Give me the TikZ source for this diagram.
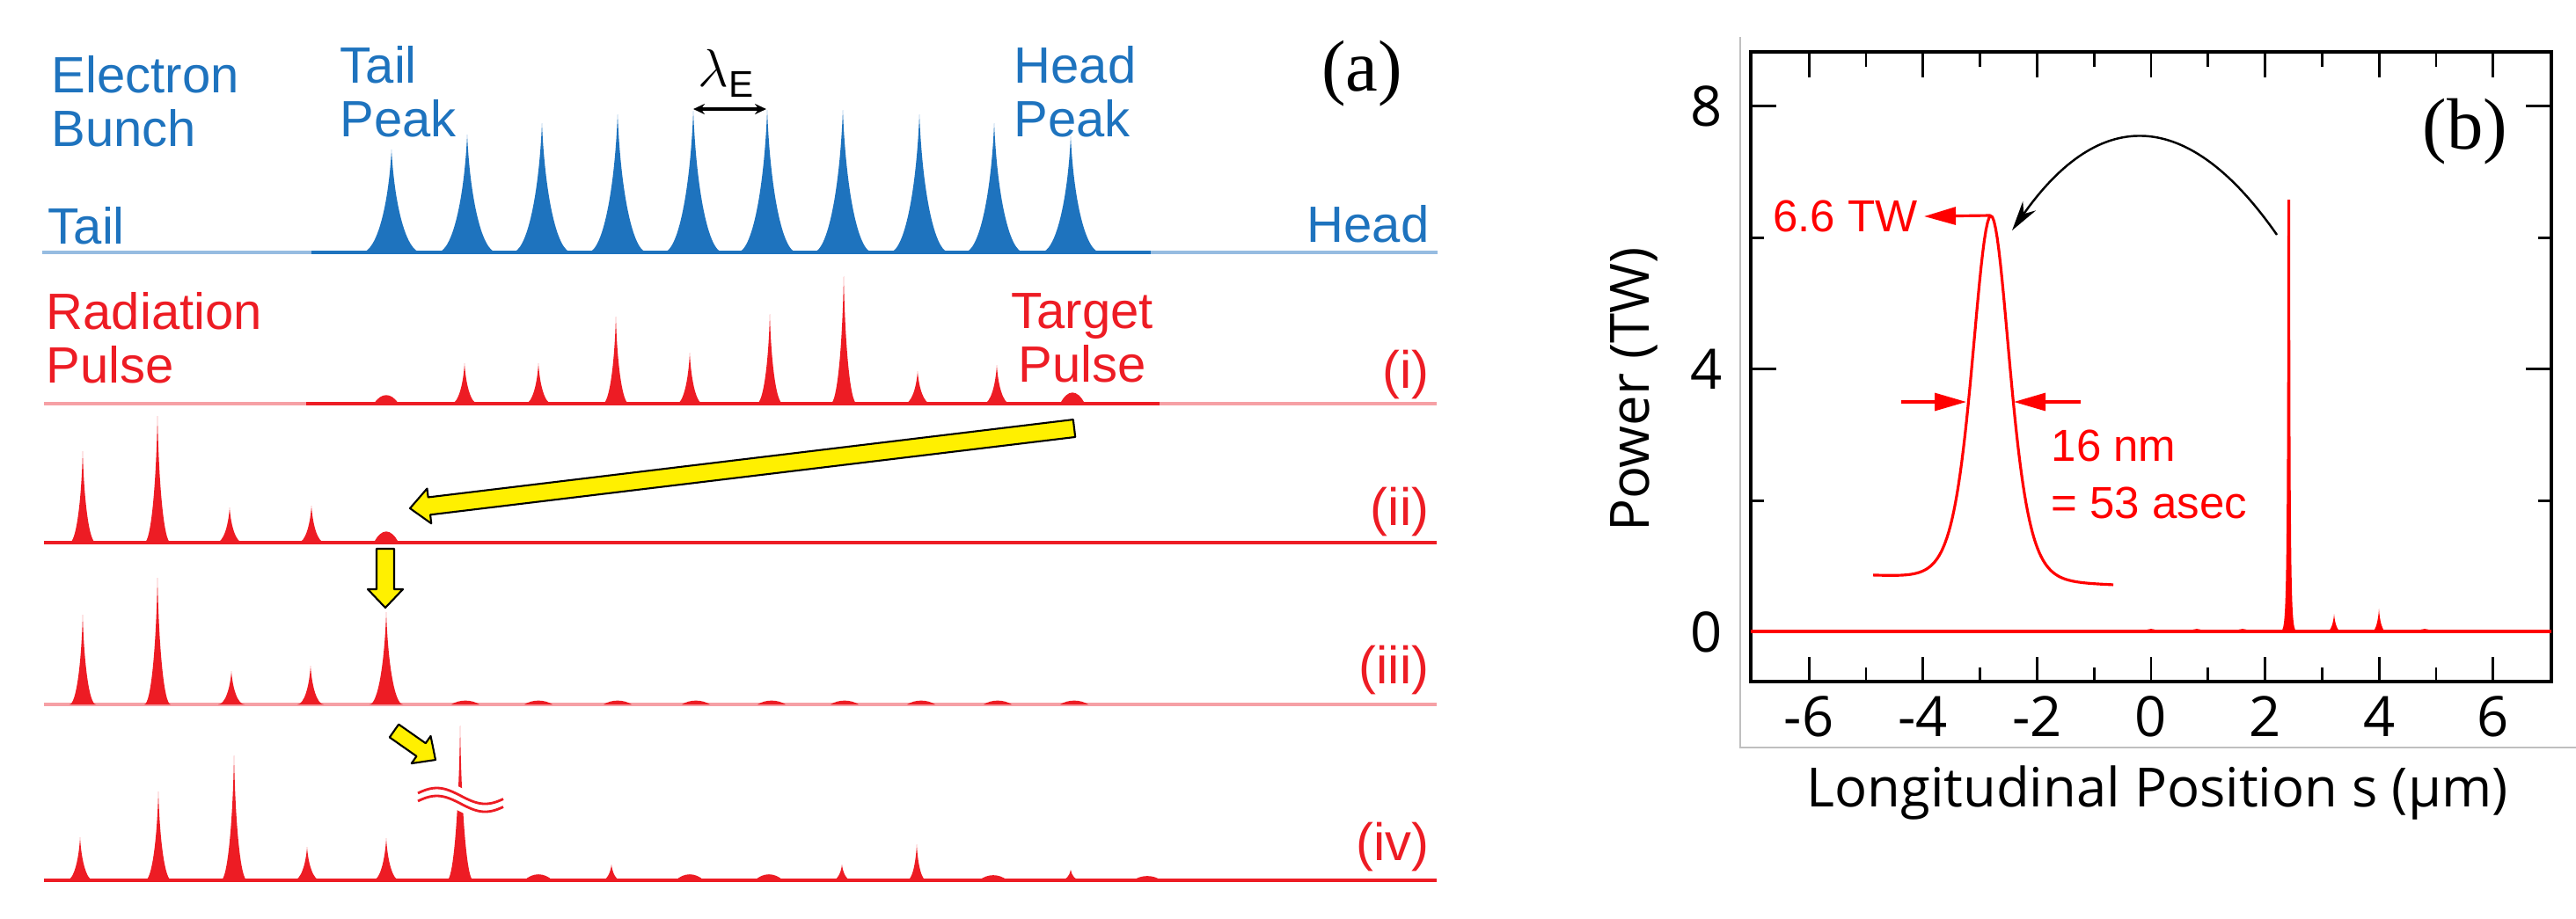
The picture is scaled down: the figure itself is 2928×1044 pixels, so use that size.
\documentclass[tikz,border=0pt]{standalone}
\usepackage{fontspec}
\setmainfont{Liberation Sans}
\newfontfamily\figserif{Liberation Serif}
\newfontfamily\axisfont{Open Sans}
\usetikzlibrary{arrows.meta, calc, positioning}

\definecolor{bunchblue}{RGB}{30,115,190}
\definecolor{lightblue}{RGB}{150,188,225}
\definecolor{pulsered}{RGB}{237,28,36}
\definecolor{lightred}{RGB}{246,160,165}
\definecolor{plotred}{RGB}{255,0,0}
\definecolor{arrowyellow}{RGB}{255,240,0}

\tikzset{
  lab/.style={font=\fontsize{16.5}{17.4}\selectfont, inner sep=0pt, align=left},
  rowlab/.style={font=\fontsize{17}{18}\selectfont, text=pulsered, inner sep=0pt},
  panellab/.style={font=\figserif\fontsize{23.5}{25}\selectfont, inner sep=0pt},
  note/.style={font=\fontsize{14.5}{18.5}\selectfont, text=plotred, inner sep=0pt, align=left},
  ticklab/.style={font=\axisfont\fontsize{18}{20}\selectfont, inner sep=0pt},
  axislab/.style={font=\axisfont\fontsize{17.5}{20}\selectfont, inner sep=0pt},
  fatarrow/.style={draw=black, fill=arrowyellow, line width=0.6pt, line join=round},
  redtip/.style={plotred, line width=0.9pt, -{Triangle[length=0.36cm,width=0.2cm]}},
}

% spike: colour, x, base, height, half base
\newcommand{\bpeak}[5]{%
  \fill[#1] ({#2-#5},#3) .. controls ({#2-0.5*#5},#3) and ({#2-0.1*#5},{#3-0.45*#4}) .. (#2,{#3-#4})
    .. controls ({#2+0.1*#5},{#3-0.45*#4}) and ({#2+0.5*#5},#3) .. ({#2+#5},#3) -- cycle;}
% low hump: colour, x, base, height, half base
\newcommand{\bbump}[5]{%
  \fill[#1] ({#2-#5},#3) .. controls ({#2-0.4*#5},{#3-1.3*#4}) and ({#2+0.4*#5},{#3-1.3*#4}) .. ({#2+#5},#3) -- cycle;}
% block arrow: tail, tip, body half width, head half width, head length
\newcommand{\yarrow}[5]{%
  \coordinate (#2-hb) at ($(#2)!#5!(#1)$);
  \filldraw[fatarrow] ($(#1)!#3!90:(#2)$) -- ($(#2-hb)!#3!90:(#2)$) -- ($(#2-hb)!#4!90:(#2)$) -- (#2)
    -- ($(#2-hb)!#4!-90:(#2)$) -- ($(#2-hb)!#3!-90:(#2)$) -- ($(#1)!#3!-90:(#2)$) -- cycle;}

\begin{document}
\begin{tikzpicture}[x=0.01cm, y=-0.01cm]
    \useasboundingbox (0,0) rectangle (2928,1044);

    % (a) electron bunch
    \draw[lightblue, line width=1.1pt] (48,287) -- (1634,287);
    \draw[bunchblue, line width=1.1pt] (354,287) -- (1308,287);
    \foreach \x/\h in {445/117,531/134,616/147,702/157,788/161,872/162,958/162,1045/157,1130/147,1217/132}
        \bpeak{bunchblue}{\x}{287}{\h}{34};

    \node[lab, text=bunchblue, anchor=north west] (ebunch) at (58,63) {Electron\\Bunch};
    \node[lab, text=bunchblue, anchor=base west] (tailtxt) at (54,277) {Tail};
    \node[lab, text=bunchblue, anchor=base east] (headtxt) at (1625,275) {Head};
    \node[lab, text=bunchblue, anchor=north west] (tailpk) at (386,52) {Tail\\Peak};
    \node[lab, text=bunchblue, anchor=north west] (headpk) at (1152,52) {Head\\Peak};
    \node[inner sep=0pt, anchor=base west] (lamE) at (793,98)
        {\fontsize{18.5}{20}\selectfont$\lambda$\fontsize{12}{14}\selectfont\raisebox{-0.12cm}{E}};
    \coordinate (lamL) at (788,124);
    \coordinate (lamR) at (871,124);
    \draw[{Stealth[length=0.13cm,width=0.12cm]}-{Stealth[length=0.13cm,width=0.12cm]}, line width=0.9pt]
        (lamL) -- (lamR);
    \node[panellab] (panela) at (1548,84) {(a)};

    % (a) radiation rows
    \draw[lightred, line width=1pt] (50,459) -- (1633,459);
    \draw[pulsered, line width=1pt] (348,459) -- (1318,459);
    \draw[pulsered, line width=1pt] (50,617) -- (1633,617);
    \draw[lightred, line width=1.1pt] (50,801) -- (1633,801);
    \draw[pulsered, line width=1pt] (50,1001) -- (1633,1001);

    \foreach \x/\h in {528/46,612/46,700/99,784/58,875/102,959/145,1043/37,1133/44}
        \bpeak{pulsered}{\x}{459}{\h}{15};
    \foreach \x/\h in {439/10,1219/13}
        \bbump{pulsered}{\x}{459}{\h}{14};

    \foreach \x/\h in {94/104,179/144,261/40,354/42}
        \bpeak{pulsered}{\x}{617}{\h}{15};
    \bbump{pulsered}{439}{617}{13}{14};

    \foreach \x/\h in {94/102,179/144,263/38,353/44}
        \bpeak{pulsered}{\x}{801}{\h}{15};
    \bpeak{pulsered}{439}{801}{105}{19};
    \foreach \x in {529,612,702,791,877,960,1047,1134,1221}
        \bbump{pulsered}{\x}{801}{4.5}{16};

    \foreach \x/\h in {91/49,180/101,266/142,349/38,439/48,523/176}
        \bpeak{pulsered}{\x}{1001}{\h}{15};
    \foreach \x/\h in {695/18,957/18,1042/41,1217/12}
        \bpeak{pulsered}{\x}{1001}{\h}{11};
    \foreach \x/\h in {612/7,784/7,874/7,1129/6,1304/5}
        \bbump{pulsered}{\x}{1001}{\h}{16};

    % break mark on the tall spike
    \draw[white, line width=7pt] plot[domain=473:574, samples=50] (\x, {909.5-9*sin(3.27*(\x-475)+20)});
    \foreach \c in {905,914}
        \draw[pulsered, line width=0.8pt] plot[domain=475:572, samples=50] (\x, {\c-9*sin(3.27*(\x-475)+20)});

    \node[lab, text=pulsered, anchor=north west] (radpulse) at (52,332) {Radiation\\Pulse};
    \node[lab, text=pulsered, anchor=north, align=center] (target) at (1230,333) {Target\\Pulse};
    \node[rowlab, anchor=east] (rowi) at (1625,426) {(i)};
    \node[rowlab, anchor=east] (rowii) at (1625,582) {(ii)};
    \node[rowlab, anchor=east] (rowiii) at (1625,762) {(iii)};
    \node[rowlab, anchor=east] (rowiv) at (1625,963) {(iv)};

    % yellow arrows
    \coordinate (bigtail) at (1221,487);
    \coordinate (bigtip) at (466,578);
    \yarrow{bigtail}{bigtip}{0.1cm}{0.2cm}{0.22cm}
    \coordinate (downtail) at (438,624);
    \coordinate (downtip) at (438,691);
    \yarrow{downtail}{downtip}{0.1cm}{0.2cm}{0.21cm}
    \coordinate (diagtail) at (448,831);
    \coordinate (diagtip) at (495,864);
    \yarrow{diagtail}{diagtip}{0.09cm}{0.19cm}{0.2cm}

    % (b) frame and axes
    \draw[black!25, line width=0.6pt] (1978,42) -- (1978,850) -- (2928,850);
    \draw[line width=1.2pt] (1990,59) rectangle (2900,775);
    \foreach \d in {-6,-4,...,6} {
        \draw[line width=0.8pt] ({2445+64.8*\d},59) -- ++(0,29);
        \draw[line width=0.8pt] ({2445+64.8*\d},775) -- ++(0,-28);
        \node[ticklab] (xt\d) at ({2445+64.8*\d},815) {\d};
    }
    \foreach \d in {-5,-3,...,5} {
        \draw[line width=0.8pt] ({2445+64.8*\d},59) -- ++(0,17);
        \draw[line width=0.8pt] ({2445+64.8*\d},775) -- ++(0,-16);
    }
    \foreach \v in {0,4,8} {
        \draw[line width=0.8pt] (1990,{719-74.8*\v}) -- ++(29,0);
        \draw[line width=0.8pt] (2900,{719-74.8*\v}) -- ++(-29,0);
        \node[ticklab] (yt\v) at (1940,{719-74.8*\v}) {\v};
    }
    \foreach \v in {2,6} {
        \draw[line width=0.8pt] (1990,{719-74.8*\v}) -- ++(15,0);
        \draw[line width=0.8pt] (2900,{719-74.8*\v}) -- ++(-15,0);
    }
    \node[axislab, rotate=90] (ylab) at (1857,443) {Power (TW)};
    \node[axislab, anchor=base] (xlab) at (2452,917) {Longitudinal Position s (μm)};
    \node[panellab] (panelb) at (2802,150) {(b)};

    % (b) power profile
    \draw[plotred, line width=1.4pt] (1990,718) -- (2900,718);
    \fill[plotred] (2592,718) .. controls (2599,716) and (2599.5,700) .. (2600,227) -- (2603,227)
        .. controls (2603.5,700) and (2604,716) .. (2611,718) -- cycle;
    \foreach \x/\h in {2653/20,2704/26}
        \bpeak{plotred}{\x}{718}{\h}{8};
    \foreach \x in {2445,2497,2549,2756}
        \bbump{plotred}{\x}{718}{3}{8};

    % zoomed pulse
    \draw[plotred, line width=0.9pt] plot[domain=2129:2402, samples=150]
        (\x, {654+11*(\x-2129)/273-414*(2/(exp((\x-2263)/28.4)+exp(-(\x-2263)/28.4)))^2});
    \node[note, anchor=east] (pk66) at (2180,246) {6.6 TW};
    \coordinate (pktop) at (2262,245);
    \draw[redtip] (pktop) -- ([xshift=0.07cm]pk66.east);
    \coordinate (fwl) at (2161,457);
    \coordinate (fwlt) at (2235,457);
    \coordinate (fwr) at (2365,457);
    \coordinate (fwrt) at (2289,457);
    \draw[redtip] (fwl) -- (fwlt);
    \draw[redtip] (fwr) -- (fwrt);
    \node[note, anchor=north west] (fwhm) at (2331,488) {16 nm\\= 53 asec};

    \coordinate (arcfrom) at (2588,267);
    \coordinate (arcto) at (2287,262);
    \draw[line width=0.7pt, -{Stealth[length=0.34cm,width=0.18cm]}]
        (arcfrom) .. controls (2487,122) and (2387,120) .. (arcto);
\end{tikzpicture}
\end{document}
